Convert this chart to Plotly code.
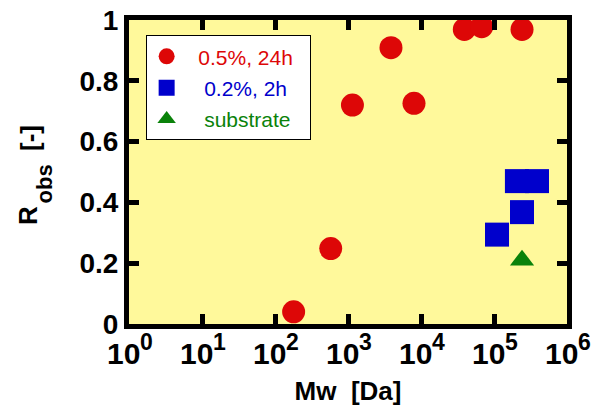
import math
import plotly.graph_objects as go

# Observed rejection vs. molecular weight
mw_24h = [180, 580, 1150, 3880, 8020, 39200, 67900, 242000]
r_24h = [0.040, 0.248, 0.720, 0.909, 0.726, 0.969, 0.978, 0.969]

mw_2h = [206000, 388000, 242000, 110000]
r_2h = [0.470, 0.470, 0.368, 0.294]

mw_sub = [242000]
r_sub = [0.21]

x_tick_vals = [1, 10, 100, 1000, 1e4, 1e5, 1e6]
x_tick_exp = ["0", "1", "2", "3", "4", "5", "6"]
y_tick_vals = [0, 0.2, 0.4, 0.6, 0.8, 1]
y_tick_text = ["0", "0.2", "0.4", "0.6", "0.8", "1"]

RED = "#DD0707"
BLUE = "#0000CC"
GREEN = "#0A820A"
NB = "\u00a0"
FONT = "Liberation Sans"

fig = go.Figure()
fig.add_trace(go.Scatter(
    x=mw_24h, y=r_24h, mode="markers", legendgroup="a",
    name=NB * 2 + "<span style='color:%s'>0.5%%, 24h</span>" % RED + NB * 2,
    marker=dict(symbol="circle", size=23, color=RED, line=dict(width=0)),
))
fig.add_trace(go.Scatter(
    x=mw_2h, y=r_2h, mode="markers", legendgroup="b",
    name=NB * 3 + "<span style='color:%s'>0.2%%, 2h</span>" % BLUE,
    marker=dict(symbol="square", size=24, color=BLUE, line=dict(width=0)),
))
fig.add_trace(go.Scatter(
    x=mw_sub, y=r_sub, mode="markers", legendgroup="c",
    name=NB * 3 + "<span style='color:%s'>substrate</span>" % GREEN,
    marker=dict(symbol="triangle-up", size=21, color=GREEN, line=dict(width=0)),
))

frame = dict(
    showline=True, linewidth=5, linecolor="black", mirror="ticks",
    ticks="inside", ticklen=10, tickwidth=5, tickcolor="black",
    showgrid=False, zeroline=False, automargin=False,
)

# log axis: tick labels are drawn below as "10" with a large exponent
fig.update_xaxes(
    type="log", range=[0, 6], tickvals=x_tick_vals, showticklabels=False,
    title=dict(text="<b>Mw " + NB + "[Da]</b>",
               font=dict(family=FONT, size=26, color="black"), standoff=55),
    **frame,
)
fig.update_yaxes(
    range=[0, 1], tickvals=y_tick_vals, ticktext=y_tick_text,
    tickfont=dict(family=FONT, size=28, color="black", weight="bold"),
    **frame,
)

annotations = []
for v, e in zip(x_tick_vals, x_tick_exp):
    pos = math.log10(v)  # annotations on a log axis take log10 positions
    annotations.append(dict(
        x=pos, xref="x", y=-0.0954, yref="paper", xshift=-5.5,
        text="<b>10</b>", showarrow=False, xanchor="center", yanchor="middle",
        font=dict(family=FONT, size=30, color="black"),
    ))
    annotations.append(dict(
        x=pos, xref="x", y=-0.0592, yref="paper", xshift=17,
        text="<b>%s</b>" % e, showarrow=False, xanchor="center", yanchor="middle",
        font=dict(family=FONT, size=23, color="black"),
    ))

# y-axis title: R with a large "obs" subscript, then [-]
for txt, px, py, size in [("R", -0.2306, 0.3586, 26),
                          ("obs", -0.1930, 0.4605, 22),
                          ("[-]", -0.2260, 0.6118, 26)]:
    annotations.append(dict(
        x=px, xref="paper", y=py, yref="paper", text="<b>%s</b>" % txt,
        textangle=-90, showarrow=False, xanchor="center", yanchor="middle",
        font=dict(family=FONT, size=size, color="black"),
    ))

fig.update_layout(
    width=599, height=410,
    margin=dict(l=129, r=32, t=20, b=86),
    plot_bgcolor="#FFF99B", paper_bgcolor="white",
    showlegend=True,
    annotations=annotations,
    legend=dict(
        x=0.038, y=0.95, xanchor="left", yanchor="top",
        bgcolor="white", bordercolor="black", borderwidth=1,
        font=dict(family=FONT, size=21, color="black"),
        tracegroupgap=1, itemsizing="trace",
    ),
)

fig.write_html("out.html")
